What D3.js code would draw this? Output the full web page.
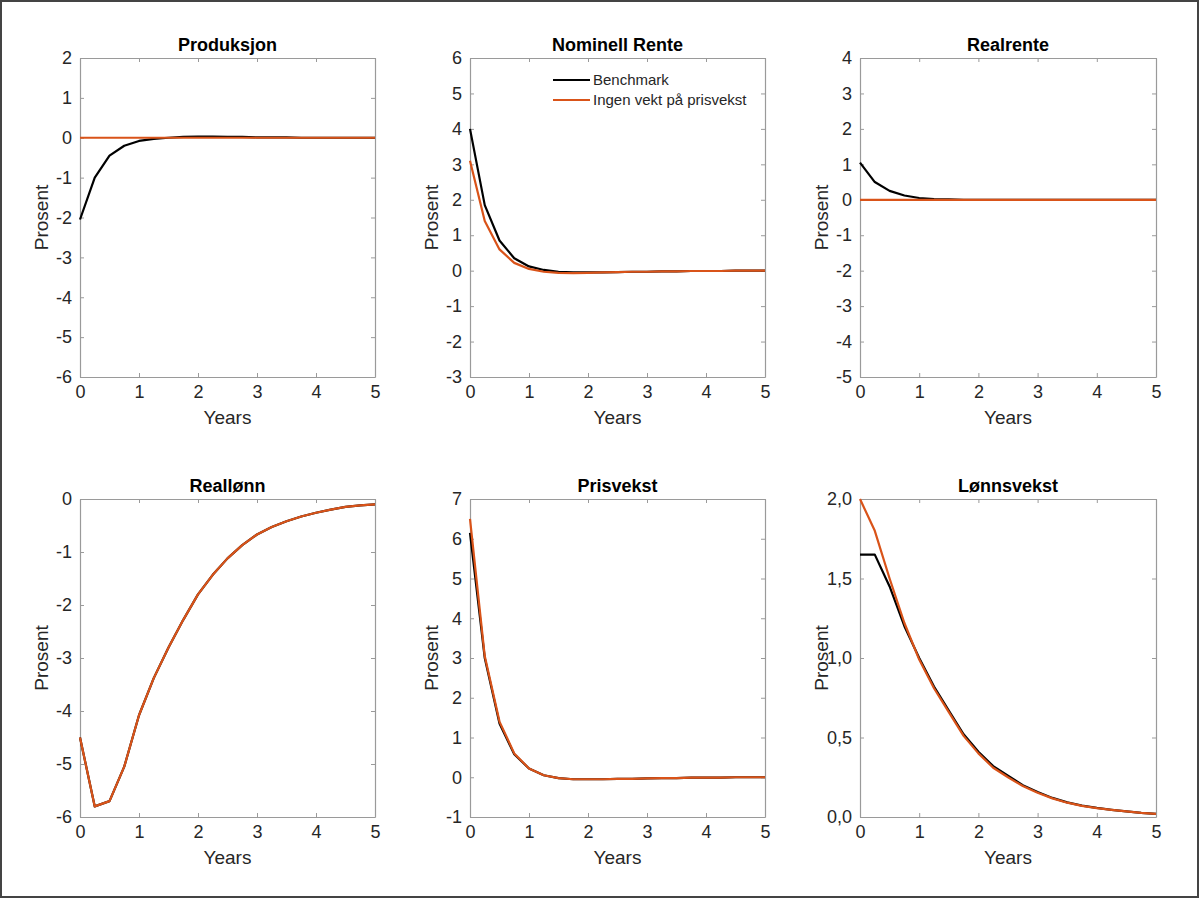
<!DOCTYPE html>
<html>
<head>
<meta charset="utf-8">
<script src="https://cdn.jsdelivr.net/npm/d3@7"></script>
<style>
  body { margin: 0; background: #fff; }
  svg { font-family: "Liberation Sans", Arial, sans-serif; }
</style>
</head>
<body>
<script>
// quarterly horizon, 0..5 years
const years = d3.range(21).map(i => i / 4);

const seriesNames = ["Benchmark", "Ingen vekt på prisvekst"];
const seriesColors = ["#000000", "#d95319"];

const produksjonBench = [-2.05, -1.0, -0.45, -0.2, -0.08, -0.03, 0.0, 0.02, 0.03, 0.03, 0.02, 0.02, 0.01, 0.01, 0.01, 0, 0, 0, 0, 0, 0];
const produksjonIngen = [0, 0, 0, 0, 0, 0, 0, 0, 0, 0, 0, 0, 0, 0, 0, 0, 0, 0, 0, 0, 0];

const renteBench = [4.0, 1.85, 0.85, 0.35, 0.12, 0.02, -0.03, -0.05, -0.05, -0.05, -0.04, -0.03, -0.03, -0.02, -0.02, -0.01, -0.01, -0.01, 0, 0, 0];
const renteIngen = [3.1, 1.4, 0.6, 0.22, 0.05, -0.03, -0.06, -0.07, -0.06, -0.05, -0.04, -0.03, -0.03, -0.02, -0.02, -0.01, -0.01, -0.01, 0, 0, 0];

const realrenteBench = [1.05, 0.5, 0.25, 0.12, 0.05, 0.02, 0.01, 0, 0, 0, 0, 0, 0, 0, 0, 0, 0, 0, 0, 0, 0];
const realrenteIngen = [0, 0, 0, 0, 0, 0, 0, 0, 0, 0, 0, 0, 0, 0, 0, 0, 0, 0, 0, 0, 0];

const reallonnBench = [-4.5, -5.8, -5.7, -5.05, -4.08, -3.38, -2.8, -2.28, -1.8, -1.43, -1.12, -0.87, -0.67, -0.53, -0.42, -0.33, -0.26, -0.2, -0.15, -0.12, -0.1];
const reallonnIngen = [-4.5, -5.8, -5.7, -5.05, -4.08, -3.38, -2.8, -2.28, -1.8, -1.43, -1.12, -0.87, -0.67, -0.53, -0.42, -0.33, -0.26, -0.2, -0.15, -0.12, -0.1];

const prisBench = [6.15, 3.0, 1.35, 0.58, 0.22, 0.05, -0.02, -0.05, -0.05, -0.05, -0.04, -0.04, -0.03, -0.02, -0.02, -0.01, -0.01, -0.01, 0, 0, 0];
const prisIngen = [6.5, 3.05, 1.4, 0.6, 0.22, 0.05, -0.02, -0.05, -0.05, -0.05, -0.04, -0.04, -0.03, -0.02, -0.02, -0.01, -0.01, -0.01, 0, 0, 0];

const lonnBench = [1.65, 1.65, 1.45, 1.2, 1.0, 0.82, 0.67, 0.52, 0.41, 0.32, 0.26, 0.2, 0.157, 0.12, 0.092, 0.072, 0.057, 0.045, 0.035, 0.026, 0.02];
const lonnIngen = [2.0, 1.8, 1.5, 1.22, 0.99, 0.81, 0.66, 0.51, 0.40, 0.31, 0.25, 0.195, 0.152, 0.117, 0.09, 0.07, 0.056, 0.045, 0.035, 0.026, 0.02];

const xTicks = [0, 1, 2, 3, 4, 5];

// MATLAB-style labels: plain hyphen for minus, comma decimals
const intFmt = d => String(d);
const commaFmt = d => d3.format(".1f")(d).replace(".", ",");

const panels = [
  {title: "Produksjon", yDomain: [-6, 2], yTicks: d3.range(-6, 3), fmt: intFmt, series: [produksjonBench, produksjonIngen]},
  {title: "Nominell Rente", yDomain: [-3, 6], yTicks: d3.range(-3, 7), fmt: intFmt, series: [renteBench, renteIngen], legend: true},
  {title: "Realrente", yDomain: [-5, 4], yTicks: d3.range(-5, 5), fmt: intFmt, series: [realrenteBench, realrenteIngen]},
  {title: "Reallønn", yDomain: [-6, 0], yTicks: d3.range(-6, 1), fmt: intFmt, series: [reallonnBench, reallonnIngen]},
  {title: "Prisvekst", yDomain: [-1, 7], yTicks: d3.range(-1, 8), fmt: intFmt, series: [prisBench, prisIngen]},
  {title: "Lønnsvekst", yDomain: [0, 2], yTicks: [0, 0.5, 1, 1.5, 2], fmt: commaFmt, series: [lonnBench, lonnIngen]}
];

const W = 1200, H = 900;
const colX = [[80, 375], [470, 765], [860, 1156]];
const rowY = [[58, 377], [499, 817]];
const axisColor = "#9a9a9a";
const textColor = "#262626";

const svg = d3.select("body").append("svg")
  .attr("width", W)
  .attr("height", H);

svg.append("rect")
  .attr("x", 1).attr("y", 1)
  .attr("width", W - 3).attr("height", H - 4)
  .attr("fill", "#fff")
  .attr("stroke", "#444")
  .attr("stroke-width", 2);

panels.forEach((p, i) => {
  const [x0, x1] = colX[i % 3];
  const [y0, y1] = rowY[Math.floor(i / 3)];

  const x = d3.scaleLinear().domain([0, 5]).range([x0, x1]);
  const y = d3.scaleLinear().domain(p.yDomain).range([y1, y0]);

  const g = svg.append("g");

  // box with inward ticks on all four sides
  const axes = [
    d3.axisBottom(x).tickValues(xTicks).tickSizeInner(-4).tickSizeOuter(0).tickPadding(8).tickFormat(intFmt),
    d3.axisTop(x).tickValues(xTicks).tickSizeInner(-4).tickSizeOuter(0).tickFormat(""),
    d3.axisLeft(y).tickValues(p.yTicks).tickSizeInner(-4).tickSizeOuter(0).tickPadding(8).tickFormat(p.fmt),
    d3.axisRight(y).tickValues(p.yTicks).tickSizeInner(-4).tickSizeOuter(0).tickFormat("")
  ];
  const shifts = [`translate(0,${y1})`, `translate(0,${y0})`, `translate(${x0},0)`, `translate(${x1},0)`];

  axes.forEach((ax, k) => {
    const a = g.append("g").attr("transform", shifts[k]).call(ax);
    a.select(".domain").attr("stroke", axisColor).attr("stroke-width", 1.2);
    a.selectAll(".tick line").attr("stroke", axisColor);
    a.selectAll(".tick text")
      .attr("fill", textColor)
      .attr("font-size", 18)
      .attr("font-family", "Liberation Sans, Arial, sans-serif");
  });

  const line = d3.line()
    .x((d, j) => x(years[j]))
    .y(d => y(d));

  p.series.forEach((s, k) => {
    g.append("path")
      .datum(s)
      .attr("fill", "none")
      .attr("stroke", seriesColors[k])
      .attr("stroke-width", 2.2)
      .attr("stroke-linejoin", "round")
      .attr("d", line);
  });

  g.append("text")
    .attr("x", (x0 + x1) / 2)
    .attr("y", y0 - 7)
    .attr("text-anchor", "middle")
    .attr("font-weight", "bold")
    .attr("font-size", 18)
    .attr("fill", "#000")
    .text(p.title);

  g.append("text")
    .attr("x", (x0 + x1) / 2)
    .attr("y", y1 + 47)
    .attr("text-anchor", "middle")
    .attr("font-size", 19)
    .attr("fill", textColor)
    .text("Years");

  g.append("text")
    .attr("transform", `translate(${x0 - 32},${(y0 + y1) / 2}) rotate(-90)`)
    .attr("text-anchor", "middle")
    .attr("font-size", 19)
    .attr("fill", textColor)
    .text("Prosent");

  if (p.legend) {
    const lg = g.append("g").attr("transform", `translate(${x0 + 83},${y0 + 22})`);
    seriesNames.forEach((name, k) => {
      lg.append("line")
        .attr("x1", 0).attr("x2", 37)
        .attr("y1", k * 20).attr("y2", k * 20)
        .attr("stroke", seriesColors[k])
        .attr("stroke-width", 2.2);
      lg.append("text")
        .attr("x", 40)
        .attr("y", k * 20)
        .attr("dy", "0.35em")
        .attr("font-size", 15)
        .attr("fill", textColor)
        .text(name);
    });
  }
});
</script>
</body>
</html>
